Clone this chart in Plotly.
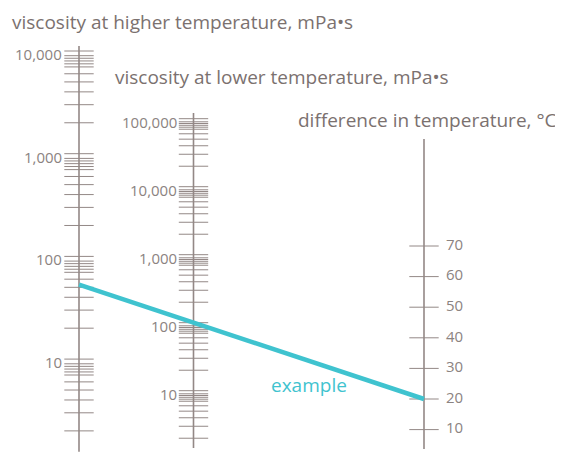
import numpy as np
import plotly.graph_objects as go

# ---------------- data ----------------
# left scale: viscosity at higher temperature (mPa·s), log
left_major = [10, 100, 1000, 10000]
left_major_labels = ["10", "100", "1,000", "10,000"]
left_span = [1.25, 11200]
# middle scale: viscosity at lower temperature (mPa·s), log
mid_major = [10, 100, 1000, 10000, 100000]
mid_major_labels = ["10", "100", "1,000", "10,000", "100,000"]
mid_span = [1.44, 121000]
# right scale: difference in temperature (°C), linear
right_ticks = [10, 20, 30, 40, 50, 60, 70]
right_labels = ["10", "20", "30", "40", "50", "60", "70"]
right_span = [3.7, 105]
# minor tick multipliers inside each decade
minor_mult = [2, 3, 4, 5, 6, 7, 7.5, 8, 8.5, 9]
# worked example
example_higher = 53    # left scale
example_lower = 100    # middle scale (line passes through)
example_diff = 20      # right scale

# ---------------- layout constants ----------------
WIN_W, WIN_H = 563, 452
OFF = 8                       # default page body margin
W, H = WIN_W - OFF, WIN_H - OFF
X_LEFT, X_MID, X_RIGHT = 79, 193.5, 424
TICK_W = 21
AX_COL = "#938886"
TXT_COL = "#7b716f"
LBL_COL = "#8b8381"
CYAN = "#3fc3cf"
FONT = "Open Sans"
LBL_SIZE = 15
TITLE_SIZE = 19


def log_range(anchor_y, anchor_log, px_per_dec):
    top = anchor_log + (anchor_y - OFF) / px_per_dec
    bot = anchor_log - (WIN_H - anchor_y) / px_per_dec
    return [bot, top]


def lin_range(anchor_y, anchor_v, px_per_unit):
    top = anchor_v + (anchor_y - OFF) / px_per_unit
    bot = anchor_v - (WIN_H - anchor_y) / px_per_unit
    return [bot, top]


Y1_RANGE = log_range(51, 4, 102.7)
Y2_RANGE = log_range(390.7, 1, 68)
Y3_RANGE = lin_range(399, 20, 3.06)


def py(screen_y):
    return 1 - (screen_y - OFF) / H


def minors(decades):
    out = []
    for d in decades:
        out += [m * d for m in minor_mult]
    return out


left_ticks = left_major + minors([1, 10, 100, 1000])
mid_ticks = mid_major + minors([1, 10, 100, 1000, 10000])

fig = go.Figure()


def spine_and_ticks(x, span, ticks, yaxis):
    fig.add_trace(go.Scatter(x=[x, x], y=span, yaxis=yaxis, mode="lines",
                             line=dict(color=AX_COL, width=1.6),
                             hoverinfo="skip", showlegend=False))
    fig.add_trace(go.Scatter(x=[x] * len(ticks), y=ticks, yaxis=yaxis,
                             mode="markers",
                             marker=dict(symbol="line-ew", size=TICK_W,
                                         line=dict(color=AX_COL, width=1)),
                             hoverinfo="skip", showlegend=False))


spine_and_ticks(X_LEFT, left_span, left_ticks, "y")
spine_and_ticks(X_MID, mid_span, mid_ticks, "y2")
spine_and_ticks(X_RIGHT, right_span, right_ticks, "y3")

# log-scale labels (annotations on log axes take log10 positions)
for x, vals, labs, yref in [(X_LEFT, left_major, left_major_labels, "y"),
                            (X_MID, mid_major, mid_major_labels, "y2")]:
    for v, t in zip(vals, labs):
        fig.add_annotation(x=x - 15, y=np.log10(v), xref="x", yref=yref,
                           text=t, showarrow=False, xanchor="right",
                           yanchor="middle", yshift=-3,
                           font=dict(family=FONT, size=LBL_SIZE, color=LBL_COL))

# linear-scale labels
fig.add_trace(go.Scatter(x=[X_RIGHT + 22] * len(right_ticks), y=right_ticks,
                         yaxis="y3", mode="text", text=right_labels,
                         textposition="middle right",
                         textfont=dict(family=FONT, size=LBL_SIZE, color=LBL_COL),
                         hoverinfo="skip", showlegend=False))


# example line: from left scale value to right scale value (paper coords)
def paper_log(v, rng):
    return (np.log10(v) - rng[0]) / (rng[1] - rng[0])


def paper_lin(v, rng):
    return (v - rng[0]) / (rng[1] - rng[0])


fig.add_shape(type="line", xref="x", yref="paper",
              x0=X_LEFT, y0=paper_log(example_higher, Y1_RANGE),
              x1=X_RIGHT, y1=paper_lin(example_diff, Y3_RANGE),
              line=dict(color=CYAN, width=4.5))

fig.add_annotation(x=309, y=py(385), xref="x", yref="paper",
                   text="example", showarrow=False, yanchor="middle",
                   font=dict(family=FONT, size=19, color=CYAN))

titles = [("viscosity at higher temperature, mPa•s", 10, 22),
          ("viscosity at lower temperature, mPa•s", 113, 77),
          ("difference in temperature, °C", 296, 120)]
for t, x, y in titles:
    fig.add_annotation(x=x, y=py(y), xref="x", yref="paper", text=t,
                       showarrow=False, xanchor="left", yanchor="middle",
                       font=dict(family=FONT, size=TITLE_SIZE, color=TXT_COL))

hidden = dict(visible=False, fixedrange=True)
fig.update_layout(
    width=W, height=H, margin=dict(l=0, r=0, t=0, b=0),
    paper_bgcolor="white", plot_bgcolor="white", showlegend=False,
    xaxis=dict(range=[OFF, WIN_W], **hidden),
    yaxis=dict(type="log", range=Y1_RANGE, **hidden),
    yaxis2=dict(type="log", range=Y2_RANGE, overlaying="y", **hidden),
    yaxis3=dict(type="linear", range=Y3_RANGE, overlaying="y", **hidden),
)
fig.write_html("out.html")
